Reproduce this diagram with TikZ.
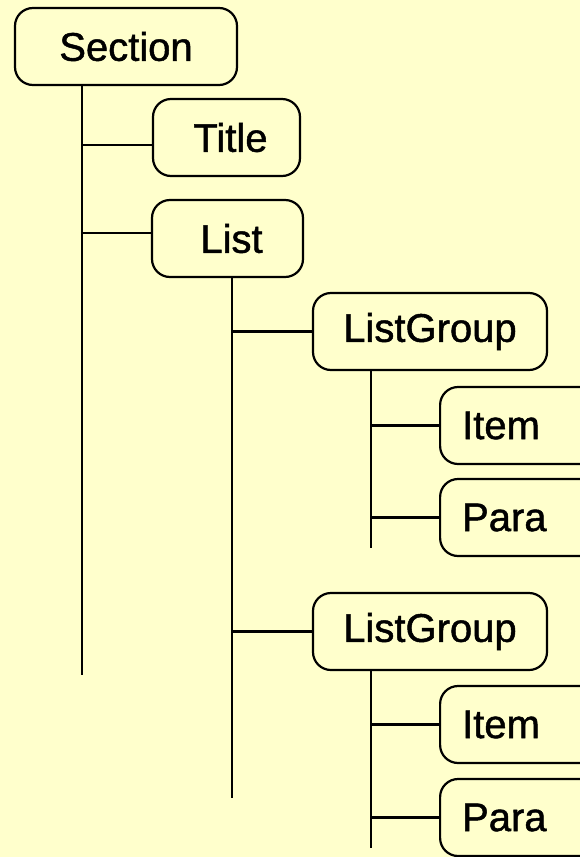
\documentclass[tikz,border=0pt]{standalone}
\usepackage{fontspec}
\setmainfont{Liberation Sans}[AutoFakeBold=1.2]
\definecolor{bg}{HTML}{FFFFCC}
\begin{document}
\begin{tikzpicture}[x=1pt,y=-1pt,
  box/.style={draw=black, line width=2.2pt, rounded corners=18pt, fill=bg,
    minimum height=77pt, inner sep=0pt, font=\fontsize{40}{44}\selectfont\bfseries},
  leafbox/.style={box, text width=132pt, align=left, inner xsep=22pt, minimum width=154pt},
  link/.style={line width=2.2pt}]
\fill[bg] (0,0) rectangle (580,857);
\useasboundingbox (0,0) rectangle (580,857);
\node[box, minimum width=222pt] (sec) at (126,46.5) {Section};
\node[box, minimum width=147pt] (title) at (226.5,137.5) {\hspace{8pt}Title};
\node[box, minimum width=151pt] (list) at (227.5,238.5) {\hspace{8pt}List};
\node[box, minimum width=234pt] (lg1) at (430,331.5) {ListGroup};
\node[leafbox, anchor=west] (item1) at (439,425.5) {Item};
\node[leafbox, anchor=west] (para1) at (439,517.5) {Para};
\node[box, minimum width=234pt] (lg2) at (430,631.5) {ListGroup};
\node[leafbox, anchor=west] (item2) at (439,724.5) {Item};
\node[leafbox, anchor=west] (para2) at (439,817.5) {Para};
% trunks
\coordinate (secend) at (82,675);
\coordinate (listend) at (232,798);
\coordinate (lg1end) at (371,548);
\coordinate (lg2end) at (371,848);
\draw[link] (sec.south -| secend) -- (secend);
\draw[link] (list.south -| listend) -- (listend);
\draw[link] (lg1.south -| lg1end) -- (lg1end);
\draw[link] (lg2.south -| lg2end) -- (lg2end);
% branches
\draw[link] (secend |- 0,145) -- (title.west |- 0,145);
\draw[link] (secend |- 0,233) -- (list.west |- 0,233);
\draw[link] (listend |- lg1.west) -- (lg1.west);
\draw[link] (listend |- lg2.west) -- (lg2.west);
\draw[link] (lg1end |- item1.west) -- (item1.west);
\draw[link] (lg1end |- para1.west) -- (para1.west);
\draw[link] (lg2end |- item2.west) -- (item2.west);
\draw[link] (lg2end |- para2.west) -- (para2.west);
\end{tikzpicture}
\end{document}
